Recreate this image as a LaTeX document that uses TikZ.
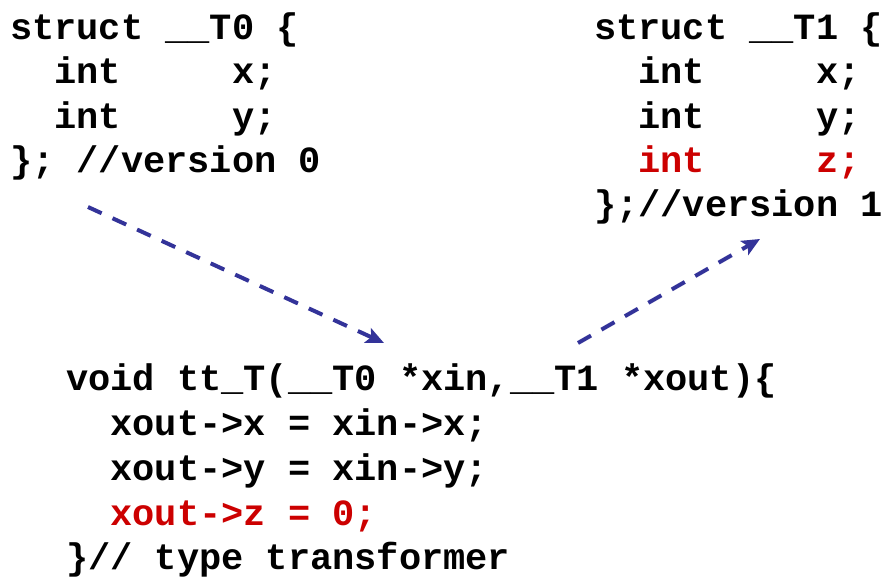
\documentclass[tikz,border=0pt]{standalone}
\usepackage{fontspec}
\setmonofont{Liberation Mono}
\usetikzlibrary{arrows.meta}
\definecolor{arrowblue}{RGB}{51,51,153}
\definecolor{codered}{RGB}{204,0,0}
\newcommand\blankcols[1]{\hphantom{#1}}
\tikzset{
  code/.style={anchor=base west, inner sep=0pt, outer sep=0pt,
    font=\ttfamily\bfseries\fontsize{37}{44}\selectfont, text=black},
  redcode/.style={code, text=codered},
  flow/.style={draw=arrowblue, line width=4pt, dash pattern=on 15pt off 12pt,
    -{Stealth[length=18pt,width=16pt,inset=4pt]}}
}
\begin{document}
\begin{tikzpicture}[x=1pt,y=1pt]
\useasboundingbox (0,0) rectangle (888,-577);
% version 0
\node[code] (tl1) at (10,-40)  {struct \_\_T0 \{};
\node[code] (tl2) at (10,-84)  {\blankcols{xx}int\blankcols{xxxxx}x;};
\node[code] (tl3) at (10,-129) {\blankcols{xx}int\blankcols{xxxxx}y;};
\node[code] (tl4) at (10,-173) {\}; //version 0};
% version 1
\node[code] (tr1) at (594,-40)  {struct \_\_T1 \{};
\node[code] (tr2) at (594,-84)  {\blankcols{xx}int\blankcols{xxxxx}x;};
\node[code] (tr3) at (594,-129) {\blankcols{xx}int\blankcols{xxxxx}y;};
\node[redcode] (tr4) at (594,-173) {\blankcols{xx}int\blankcols{xxxxx}z;};
\node[code] (tr5) at (594,-217) {\};//version 1};
% transformer
\node[code] (b1) at (66,-390) {void tt\_T(\_\_T0 *xin,\_\_T1 *xout)\{};
\node[code] (b2) at (66,-435) {\blankcols{xx}xout->x = xin->x;};
\node[code] (b3) at (66,-480) {\blankcols{xx}xout->y = xin->y;};
\node[redcode] (b4) at (66,-525) {\blankcols{xx}xout->z = 0;};
\node[code] (b5) at (66,-569) {\}// type transformer};
% arrows
\coordinate (a1s) at (88,-207);
\coordinate (a1e) at (384,-343);
\coordinate (a2s) at (578,-343);
\coordinate (a2e) at (760,-239);
\draw[flow] (a1s) -- (a1e);
\draw[flow] (a2s) -- (a2e);
\end{tikzpicture}
\end{document}
